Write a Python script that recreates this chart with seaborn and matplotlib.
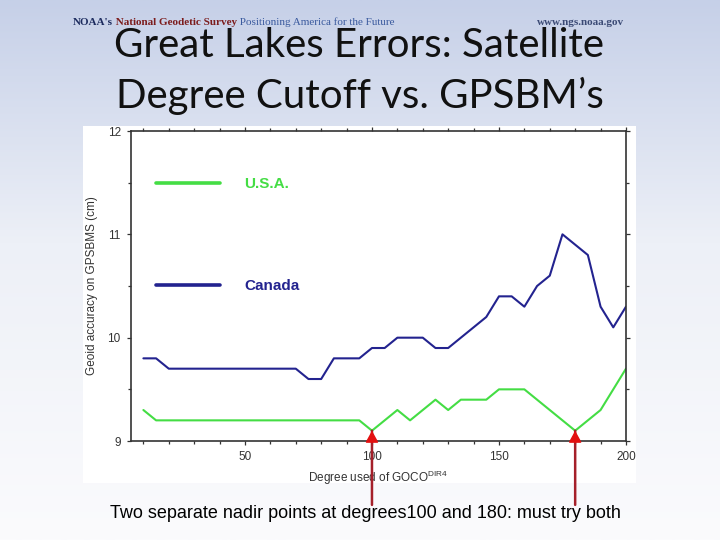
import matplotlib
matplotlib.use("Agg")
import matplotlib.pyplot as plt
from matplotlib.colors import LinearSegmentedColormap
from matplotlib.patches import Rectangle
from matplotlib.ticker import MultipleLocator
import seaborn as sns
import numpy as np
import pandas as pd

# values (vertices of each polyline)
usa_degree = [10, 15, 95, 100, 110, 115, 125, 130, 135, 145, 150, 160, 180, 190, 200]
usa_error = [9.3, 9.2, 9.2, 9.1, 9.3, 9.2, 9.4, 9.3, 9.4, 9.4, 9.5, 9.5, 9.1, 9.3, 9.7]

canada_degree = [10, 15, 20, 70, 75, 80, 85, 95, 100, 105, 110, 120, 125, 130,
                 145, 150, 155, 160, 165, 170, 175, 185, 190, 195, 200]
canada_error = [9.8, 9.8, 9.7, 9.7, 9.6, 9.6, 9.8, 9.8, 9.9, 9.9, 10.0, 10.0, 9.9, 9.9,
                10.2, 10.4, 10.4, 10.3, 10.5, 10.6, 11.0, 10.8, 10.3, 10.1, 10.3]

countries = ["U.S.A.", "Canada"]
nadir_degrees = [100, 180]

title_lines = ["Great Lakes Errors: Satellite", "Degree Cutoff vs. GPSBM\u2019s"]
caption = "Two separate nadir points at degrees100 and 180: must try both"

df = pd.concat([
    pd.DataFrame({"degree": usa_degree, "error": usa_error, "country": countries[0]}),
    pd.DataFrame({"degree": canada_degree, "error": canada_error, "country": countries[1]}),
])

sns.set_style("ticks")
plt.rcParams["font.family"] = ["Liberation Sans", "DejaVu Sans"]
plt.rcParams["mathtext.fontset"] = "custom"
plt.rcParams["mathtext.rm"] = "Liberation Sans"

fig = plt.figure(figsize=(7.2, 5.4), dpi=100)

# slide background: light blue fading to white, with a white panel for the chart
bg = fig.add_axes([0, 0, 1, 1], zorder=-10)
slide_cmap = LinearSegmentedColormap.from_list(
    "slide", [(0, "#c6d0e8"), (0.45, "#edf0f7"), (1, "#fbfbfd")])
bg.imshow(np.linspace(0, 1, 256).reshape(-1, 1), aspect="auto", cmap=slide_cmap,
          extent=[0, 1, 0, 1], origin="upper")
bg.add_patch(Rectangle((0.1153, 0.1056), 0.768, 0.661, transform=bg.transAxes,
                       facecolor="white", edgecolor="none"))
bg.set_xlim(0, 1)
bg.set_ylim(0, 1)
bg.axis("off")

ax = fig.add_axes([0.1815, 0.1833, 0.6879, 0.5741])
ax.set_facecolor("white")

palette = {"U.S.A.": "#44dd44", "Canada": "#23238f"}
sns.lineplot(data=df, x="degree", y="error", hue="country", hue_order=countries,
             palette=palette, estimator=None, sort=False, linewidth=1.5, ax=ax)

ax.set_xlim(5, 200)
ax.set_ylim(9, 12)
ax.xaxis.set_major_locator(MultipleLocator(50))
ax.xaxis.set_minor_locator(MultipleLocator(10))
ax.yaxis.set_major_locator(MultipleLocator(1))
ax.yaxis.set_minor_locator(MultipleLocator(0.5))
ax.tick_params(which="both", direction="out", top=True, right=True,
               labeltop=False, labelright=False, color="#333333", width=0.9)
ax.tick_params(which="major", length=3.2, labelsize=8.5, labelcolor="#333333", pad=4)
ax.tick_params(which="minor", length=2.4)
for sp in ax.spines.values():
    sp.set_visible(True)
    sp.set_color("#333333")
    sp.set_linewidth(1.2)

ax.set_xlabel("Degree used of GOCO$^{\\rm DIR4}$", fontsize=8.5, color="#333333", labelpad=4)
ax.set_ylabel("Geoid accuracy on GPSBMS (cm)", fontsize=8.5, color="#333333", labelpad=7)

handles, labels = ax.get_legend_handles_labels()
leg = ax.legend(handles, labels, loc="center left", bbox_to_anchor=(0.0511, 0.664),
                frameon=False, handlelength=4.2, handletextpad=1.6, labelspacing=5.8,
                borderpad=0, borderaxespad=0, labelcolor="linecolor",
                prop={"family": "Liberation Sans", "weight": "bold", "size": 11})
for line in leg.get_lines():
    line.set_linewidth(2.6)

# red arrows pointing at the two U.S.A. minima
for deg in nadir_degrees:
    val = usa_error[usa_degree.index(deg)]
    ax.annotate("", xy=(deg, val), xytext=(deg, 0.065),
                textcoords=("data", "figure fraction"),
                arrowprops=dict(arrowstyle="-", color="#a5202a", lw=1.8,
                                shrinkA=0, shrinkB=0),
                annotation_clip=False)
    ax.annotate("", xy=(deg, val), xytext=(0, -8), textcoords="offset points",
                arrowprops=dict(arrowstyle="-|>,head_length=0.4,head_width=0.22",
                                mutation_scale=18, color="#e31010", lw=1,
                                shrinkA=0, shrinkB=0),
                annotation_clip=False)

# slide header and title
hdr_y = 1 - 24.7 / 540
t1 = fig.text(72.7 / 720, hdr_y, "NOAA's", family="Liberation Serif", weight="bold",
              fontsize=8, color="#1c2b5e", va="baseline")
t2 = bg.annotate(" National Geodetic Survey", xy=(1, 0), xycoords=t1, va="bottom",
                 family="Liberation Serif", weight="bold", fontsize=8, color="#7c1c1c")
bg.annotate(" Positioning America for the Future", xy=(1, 0), xycoords=t2, va="bottom",
            family="Liberation Serif", fontsize=8, color="#3a5a9e")
fig.text(0.746, hdr_y, "www.ngs.noaa.gov", family="Liberation Serif", weight="bold",
         fontsize=8, color="#3b4a75", va="baseline")

fig.text(0.4986, 1 - 57 / 540, title_lines[0], family="Lato", fontsize=29,
         color="#111111", ha="center", va="baseline")
fig.text(0.5, 1 - 108 / 540, title_lines[1], family="Lato", fontsize=29,
         color="#111111", ha="center", va="baseline")

fig.text(365 / 720, 1 - 513 / 540, caption, family="Liberation Sans", fontsize=13,
         color="black", ha="center", va="center")

fig.savefig("out.png", dpi=100)
